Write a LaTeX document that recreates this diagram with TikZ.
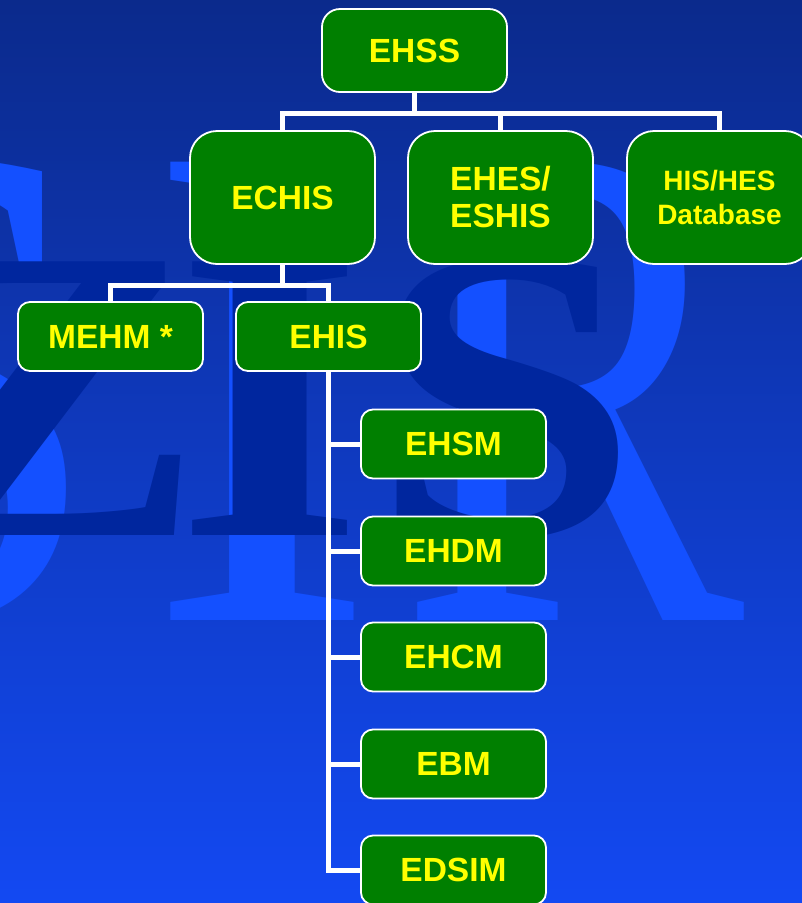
\documentclass[tikz,border=0pt]{standalone}
\usepackage{fontspec}
\setmainfont{Liberation Sans}
\newfontfamily\wmfont{Liberation Serif}
\usetikzlibrary{calc}
\definecolor{bgtop}{HTML}{0B2A8C}
\definecolor{bgbot}{HTML}{1349F2}
\definecolor{wmlight}{HTML}{1450FF}
\definecolor{wmdark}{HTML}{00269E}
\definecolor{boxgreen}{HTML}{007F00}
\definecolor{txtyellow}{HTML}{FFFF00}
\tikzset{
  box/.style={draw=white, line width=1.8pt, fill=boxgreen, text=txtyellow,
    font=\bfseries\fontsize{33.5pt}{37pt}\selectfont, align=center,
    minimum width=185pt, inner sep=0pt},
  topbox/.style={box, minimum height=83pt, rounded corners=18pt},
  bigbox/.style={box, minimum height=133pt, rounded corners=27pt},
  smallbox/.style={box, minimum height=69pt, rounded corners=12pt},
  conn/.style={draw=white, line width=5pt},
  wmd/.style={text=wmdark, anchor=base, inner sep=0pt, xscale=1.15, font=\wmfont\bfseries\fontsize{418pt}{418pt}\selectfont},
  wml/.style={text=wmlight, anchor=base, inner sep=0pt, font=\wmfont\fontsize{700pt}{700pt}\selectfont}
}
\begin{document}
\begin{tikzpicture}[x=1pt,y=-1pt]
\useasboundingbox (0,0) rectangle (802,903);
\clip (0,0) rectangle (802,903);
\fill[top color=bgtop, bottom color=bgbot] (0,0) rectangle (802,903);
% watermark, light letters
\node[wml] (wl1) at (-85,620) {S};
\node[wml, xscale=1.0] (wl2) at (262,620) {I};
\node[wml, xscale=0.74] (wl3) at (572,620) {R};
% watermark, dark letters
\node[wmd] (wd1) at (45,535) {Z};
\node[wmd] (wd2) at (270,535) {I};
\node[wmd] (wd3) at (505,535) {S};
% boxes
\node[topbox] (ehss) at (414.5,50.5) {EHSS};
\node[bigbox] (echis) at (282.5,197.5) {ECHIS};
\node[bigbox] (ehes) at (500.5,197.5) {EHES/\\ESHIS};
\node[bigbox, font=\bfseries\fontsize{28pt}{34pt}\selectfont] (db) at (719.5,197.5) {HIS/HES\\Database};
\node[smallbox] (mehm) at (110.5,336.5) {MEHM *};
\node[smallbox] (ehis) at (328.5,336.5) {EHIS};
\node[smallbox] (ehsm) at (453.5,444) {EHSM};
\node[smallbox] (ehdm) at (453.5,551) {EHDM};
\node[smallbox] (ehcm) at (453.5,657) {EHCM};
\node[smallbox] (ebm) at (453.5,764) {EBM};
\node[smallbox] (edsim) at (453.5,870) {EDSIM};
% connectors
\coordinate (j1) at (414.5,113);
\coordinate (j2) at (282.5,285);
\draw[conn] (ehss.south) -- (ehss.south |- j1);
\draw[conn] (echis.north) -- (echis.north |- j1) -- (db.north |- j1) -- (db.north);
\draw[conn] (ehes.north) -- (ehes.north |- j1);
\draw[conn] (echis.south) -- (echis.south |- j2);
\draw[conn] (mehm.north) -- (mehm.north |- j2) -- (ehis.north |- j2) -- (ehis.north);
\draw[conn] (ehis.south) |- (edsim.west);
\draw[conn] (ehis.south |- ehsm.west) -- (ehsm.west);
\draw[conn] (ehis.south |- ehdm.west) -- (ehdm.west);
\draw[conn] (ehis.south |- ehcm.west) -- (ehcm.west);
\draw[conn] (ehis.south |- ebm.west) -- (ebm.west);
\end{tikzpicture}
\end{document}
